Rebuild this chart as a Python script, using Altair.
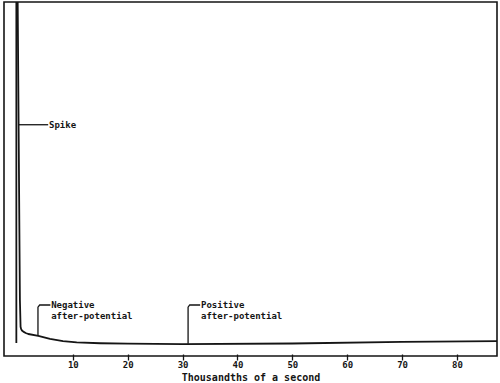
import altair as alt
import pandas as pd

# Action potential trace (x: thousandths of a second, y: arbitrary units, baseline = 0)
spike_x = [-0.3, -0.3]
spike_y = [0.0, 40.0]

decay_x = [-0.3, 0.35, 0.47, 0.56, 0.72, 0.97, 1.4, 1.88, 3.7, 5.83, 8.2, 10.7, 15.0, 20.0, 30.0, 50.0, 70.0, 87.3]
decay_y = [40.0, 3.3, 1.25, 1.08, 0.96, 0.87, 0.77, 0.69, 0.54, 0.31, 0.15, 0.04, -0.02, -0.05, -0.08, -0.04, 0.08, 0.15]

# Label leader lines
leader_group = ["spike", "spike", "neg", "neg", "neg", "neg", "pos", "pos", "pos", "pos"]
leader_x = [0.0, 5.5, 3.64, 3.64, 3.95, 5.9, 31.0, 31.0, 31.3, 33.2]
leader_y = [16.77, 16.77, 0.55, 2.75, 2.92, 2.92, -0.06, 2.75, 2.92, 2.92]

# Labels
label_text = ["Spike", "Negative", "after-potential", "Positive", "after-potential"]
label_x = [5.65, 6.05, 6.05, 33.35, 33.35]
label_y = [16.77, 2.92, 2.08, 2.92, 2.08]

tick_values = [10, 20, 30, 40, 50, 60, 70, 80]

INK = "#151515"
FONT = "DejaVu Sans Mono"

xs = alt.Scale(domain=[-2.55, 87.3], nice=False, zero=False)
ys = alt.Scale(domain=[-1.0, 26.2], nice=False, zero=False)

spike_df = pd.DataFrame({"x": spike_x, "y": spike_y, "o": range(len(spike_x))})
decay_df = pd.DataFrame({"x": decay_x, "y": decay_y, "o": range(len(decay_x))})
lead_df = pd.DataFrame({"g": leader_group, "x": leader_x, "y": leader_y,
                        "o": range(len(leader_x))})
lab_df = pd.DataFrame({"t": label_text, "x": label_x, "y": label_y})

xaxis = alt.Axis(
    title="Thousandths of a second",
    values=tick_values,
    domain=False,
    grid=False,
    offset=-2,
    tickSize=6,
    tickWidth=1.3,
    tickColor=INK,
    labelFont=FONT,
    labelFontWeight="bold",
    labelFontSize=9,
    labelColor=INK,
    labelPadding=0,
    titleFont=FONT,
    titleFontWeight="bold",
    titleFontSize=10,
    titleColor=INK,
    titlePadding=3,
)

spike = alt.Chart(spike_df).mark_line(color=INK, strokeWidth=1.8, clip=True).encode(
    x=alt.X("x:Q", scale=xs, axis=xaxis),
    y=alt.Y("y:Q", scale=ys, axis=None),
    order="o:Q",
)

decay = alt.Chart(decay_df).mark_line(color=INK, strokeWidth=1.8, clip=True,
                                      strokeJoin="round").encode(
    x=alt.X("x:Q", scale=xs),
    y=alt.Y("y:Q", scale=ys),
    order="o:Q",
)

leaders = alt.Chart(lead_df).mark_line(color=INK, strokeWidth=1.3, clip=True).encode(
    x=alt.X("x:Q", scale=xs),
    y=alt.Y("y:Q", scale=ys),
    detail="g:N",
    order="o:Q",
)

labels = alt.Chart(lab_df).mark_text(
    align="left", baseline="middle", font=FONT, fontWeight="bold",
    fontSize=9, color=INK
).encode(
    x=alt.X("x:Q", scale=xs),
    y=alt.Y("y:Q", scale=ys),
    text="t:N",
)

chart = alt.layer(spike, decay, leaders, labels).properties(
    width=493,
    height=354,
    autosize=alt.AutoSizeParams(type="none"),
    padding={"left": 4, "top": 2, "right": 3, "bottom": 27},
    background="white",
).configure_view(
    stroke=INK,
    strokeWidth=1.6,
)

chart.save("out.html", embed_options={"renderer": "svg", "actions": False})
